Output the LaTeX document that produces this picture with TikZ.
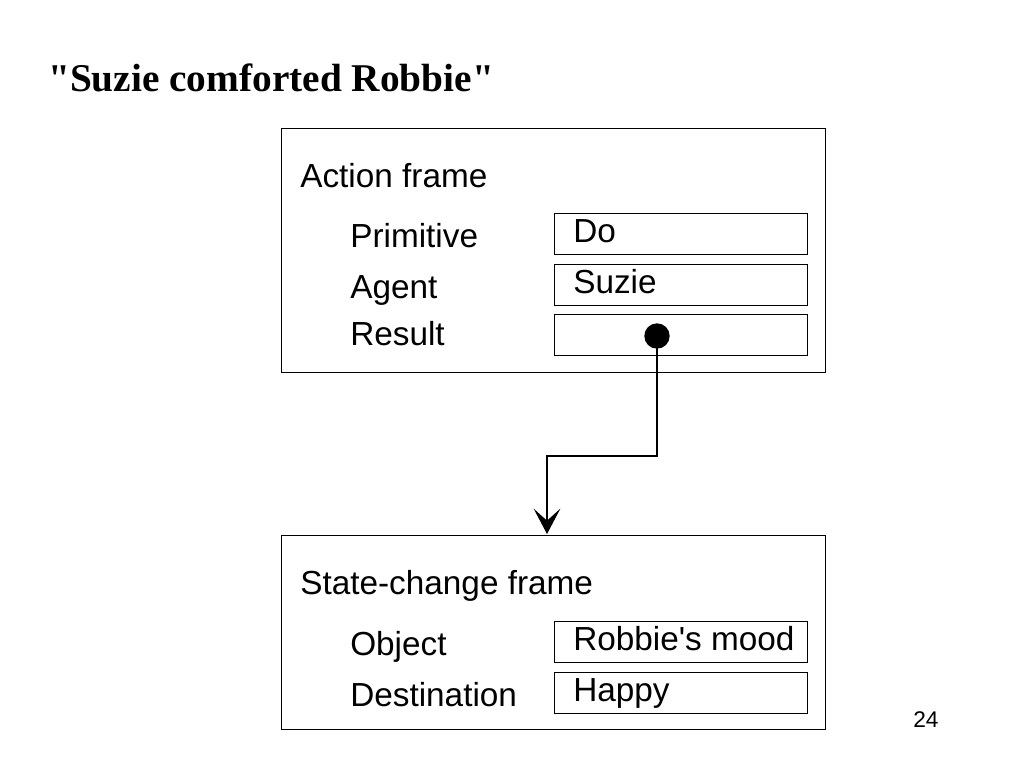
\documentclass[tikz,border=0pt]{standalone}
\usepackage{fontspec}
\setmainfont{Liberation Sans}
\newfontfamily\titlefont{Liberation Serif}
\usetikzlibrary{arrows.meta,positioning}
\tikzset{
  frame/.style={draw,line width=0.7pt,anchor=north west,minimum width=408pt,inner sep=0pt},
  slot/.style={draw,line width=0.8pt,anchor=north west,minimum width=189.75pt,minimum height=30.5pt,inner sep=0pt},
  lbl/.style={anchor=base west,inner sep=0pt},
  conn/.style={line width=0.8pt,-{Stealth[length=19pt,width=20pt,inset=9pt]}}
}
\begin{document}
\begin{tikzpicture}[x=0.75pt,y=-0.75pt,font=\fontsize{25}{30}\selectfont]
\useasboundingbox (0,0) rectangle (1024,768);
\node[anchor=base west,inner sep=0pt,font=\titlefont\bfseries\fontsize{29.5}{34}\selectfont] (title) at (48,91) {"Suzie comforted Robbie"};
\node[frame,minimum height=183pt] (action) at (281,128) {};
\node[lbl] (actname) at (300,187) {Action frame};
\node[lbl] (prim) at (350,247) {Primitive};
\node[lbl] (agent) at (350,298) {Agent};
\node[lbl] (result) at (350,345) {Result};
\node[slot] (do) at (554,213) {};
\node[slot] (suzie) at (554,264) {};
\node[slot] (res) at (554,314) {};
\node[lbl] (dotext) at (573,242) {Do};
\node[lbl] (suzietext) at (573,293) {Suzie};
\node[circle,fill,inner sep=0pt,minimum size=19pt] (dot) at (657,336) {};
\node[frame,minimum height=145.5pt] (state) at (281,535) {};
\node[lbl] (statename) at (300,594) {State-change frame};
\node[lbl] (obj) at (350,655) {Object};
\node[lbl] (dest) at (350,706) {Destination};
\node[slot] (mood) at (554,621) {};
\node[slot] (happy) at (554,672) {};
\node[lbl] (moodtext) at (573,650) {Robbie\textquotesingle s mood};
\node[lbl] (happytext) at (573,701) {Happy};
\coordinate (tip) at (547,534);
\draw[conn] (dot.center) -- (dot.center |- 0,456) -| (tip);
\node[anchor=base west,inner sep=0pt,font=\fontsize{17}{20}\selectfont] (page) at (913,727) {24};
\end{tikzpicture}
\end{document}
